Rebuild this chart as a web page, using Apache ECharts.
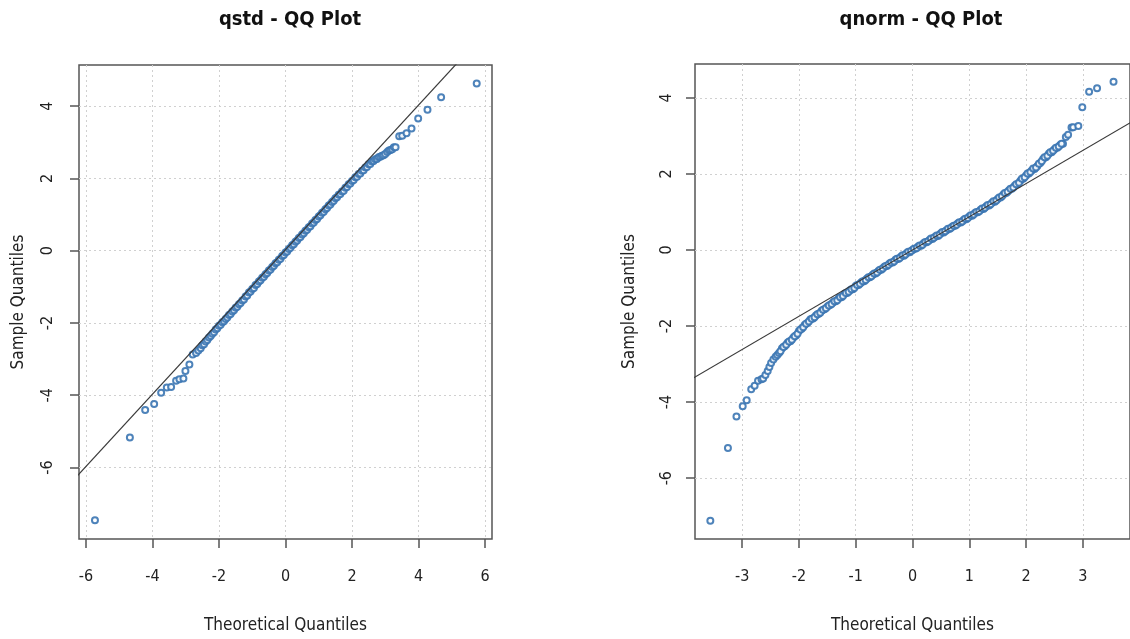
<!DOCTYPE html>
<html>
<head>
<meta charset="utf-8">
<script src="https://cdn.jsdelivr.net/npm/echarts@6/dist/echarts.min.js"></script>
<style>
html,body{margin:0;padding:0;background:#fff}
#main{width:1130px;height:639px}
</style>
</head>
<body>
<div id="main"></div>
<script>
// qstd - QQ Plot：理论分位数 / 样本分位数
var qstdTheo = [-5.73,-4.68,-4.22,-3.95,-3.74,-3.57,-3.44,-3.29,-3.19,-3.07,-3.01,-2.89,-2.79,-2.69,-2.62,
  -2.55,-2.50,-2.45,-2.40,-2.35,-2.30,-2.25,-2.20,-2.15,-2.10,-2.05,-2.00,-1.95,-1.90,-1.85,-1.80,-1.75,-1.70,-1.65,-1.60,
  -1.55,-1.50,-1.45,-1.40,-1.35,-1.30,-1.25,-1.20,-1.15,-1.10,-1.05,-1.00,-0.95,-0.90,-0.85,-0.80,-0.75,-0.70,-0.65,-0.60,
  -0.55,-0.50,-0.45,-0.40,-0.35,-0.30,-0.25,-0.20,-0.15,-0.10,-0.05,0.00,0.05,0.10,0.15,0.20,0.25,0.30,0.35,0.40,
  0.45,0.50,0.55,0.60,0.65,0.70,0.75,0.80,0.85,0.90,0.95,1.00,1.05,1.10,1.15,1.20,1.25,1.30,1.35,1.40,
  1.45,1.50,1.55,1.60,1.65,1.70,1.75,1.80,1.85,1.90,1.95,2.00,2.05,2.10,2.15,2.20,2.25,2.30,2.35,2.40,
  2.45,2.50,2.55,2.60,2.65,2.70,2.75,2.80,2.85,2.90,2.95,3.00,
  3.06,3.11,3.16,3.21,3.26,3.31,3.42,3.51,3.64,3.79,3.99,4.27,4.68,5.75];
var qstdSample = [-7.46,-5.17,-4.41,-4.24,-3.93,-3.79,-3.77,-3.60,-3.56,-3.54,-3.33,-3.15,-2.87,-2.83,-2.76,
  -2.70,-2.62,-2.59,-2.51,-2.47,-2.40,-2.36,-2.30,-2.26,-2.18,-2.15,-2.08,-2.05,-1.98,-1.95,-1.89,-1.85,-1.78,-1.75,-1.68,
  -1.65,-1.58,-1.55,-1.48,-1.45,-1.38,-1.35,-1.27,-1.24,-1.16,-1.13,-1.06,-1.03,-0.95,-0.92,-0.85,-0.82,-0.75,-0.72,-0.65,
  -0.62,-0.55,-0.52,-0.45,-0.42,-0.35,-0.32,-0.25,-0.22,-0.15,-0.12,-0.05,-0.02,0.05,0.08,0.15,0.18,0.25,0.28,0.35,
  0.38,0.45,0.48,0.55,0.58,0.65,0.68,0.75,0.78,0.85,0.88,0.95,0.98,1.05,1.08,1.15,1.18,1.25,1.28,1.35,
  1.38,1.45,1.48,1.55,1.57,1.64,1.66,1.74,1.76,1.84,1.86,1.93,1.96,2.03,2.05,2.12,2.14,2.21,2.23,2.30,
  2.32,2.39,2.40,2.47,2.48,2.53,2.54,2.59,2.60,2.63,2.64,2.68,
  2.73,2.77,2.79,2.81,2.86,2.86,3.17,3.18,3.25,3.38,3.66,3.90,4.25,4.63];

// qnorm - QQ Plot
var qnormTheo = [-3.56,-3.25,-3.10,-2.99,-2.92,-2.84,-2.78,-2.72,-2.66,-2.63,-2.59,-2.55,-2.52,-2.49,-2.45,-2.41,-2.38,
  -2.35,-2.30,-2.25,-2.20,-2.15,-2.10,-2.05,-2.00,-1.95,-1.90,-1.85,-1.80,-1.75,-1.70,-1.65,-1.60,
  -1.55,-1.50,-1.45,-1.40,-1.35,-1.30,-1.25,-1.20,-1.15,-1.10,-1.05,-1.00,-0.95,-0.90,-0.85,-0.80,-0.75,-0.70,-0.65,-0.60,
  -0.55,-0.50,-0.45,-0.40,-0.35,-0.30,-0.25,-0.20,-0.15,-0.10,-0.05,0.00,0.05,0.10,0.15,0.20,0.25,0.30,0.35,0.40,
  0.45,0.50,0.55,0.60,0.65,0.70,0.75,0.80,0.85,0.90,0.95,1.00,1.05,1.10,1.15,1.20,1.25,1.30,1.35,1.40,
  1.45,1.50,1.55,1.60,1.65,1.70,1.75,1.80,1.85,1.90,1.95,2.00,2.05,2.10,2.15,2.20,2.25,2.30,2.35,2.40,
  2.45,2.50,2.55,2.60,2.65,
  2.70,2.74,2.80,2.83,2.92,2.99,3.11,3.25,3.54,
  -2.325,-2.275,-2.225,-2.175,-2.125,-2.075,-2.025,-1.975,-1.925,-1.875,-1.825,-1.775,-1.725,-1.675,-1.625,
  -1.575,-1.525,-1.475,-1.425,-1.375,-1.325,-1.275,-1.225,-1.175,-1.125,-1.075,-1.025,-0.975,-0.925,-0.875,
  -0.825,-0.775,-0.725,-0.675,-0.625,-0.575,-0.525,-0.475,-0.425,-0.375,-0.325,-0.275,-0.225,-0.175,-0.125,
  -0.075,-0.025,0.025,0.075,0.125,0.175,0.225,0.275,0.325,0.375,0.425,0.475,0.525,0.575,0.625,
  0.675,0.725,0.775,0.825,0.875,0.925,0.975,1.025,1.075,1.125,1.175,1.225,1.275,1.325,1.375,
  1.425,1.475,1.525,1.575,1.625,1.675,1.725,1.775,1.825,1.875,1.925,1.975,2.025,2.075,2.125,
  2.175,2.225,2.275,2.325,2.375,2.425,2.475,2.525,2.575,2.625];
var qnormSample = [-7.12,-5.21,-4.38,-4.11,-3.95,-3.66,-3.57,-3.44,-3.40,-3.38,-3.29,-3.18,-3.08,-2.97,-2.88,-2.81,-2.76,
  -2.71,-2.59,-2.53,-2.44,-2.40,-2.31,-2.25,-2.13,-2.07,-1.97,-1.92,-1.83,-1.80,-1.72,-1.68,-1.60,
  -1.56,-1.49,-1.45,-1.38,-1.35,-1.27,-1.24,-1.16,-1.13,-1.06,-1.03,-0.95,-0.92,-0.85,-0.82,-0.75,-0.72,-0.65,-0.62,-0.55,
  -0.52,-0.45,-0.42,-0.35,-0.33,-0.26,-0.24,-0.17,-0.15,-0.08,-0.06,0.00,0.03,0.09,0.11,0.18,0.20,0.26,0.29,0.35,
  0.37,0.44,0.46,0.52,0.55,0.61,0.64,0.70,0.72,0.79,0.81,0.88,0.90,0.97,0.99,1.06,1.08,1.15,1.17,1.24,
  1.27,1.34,1.38,1.46,1.50,1.57,1.61,1.69,1.73,1.82,1.87,1.96,2.01,2.09,2.13,2.21,2.29,2.39,2.44,2.53,
  2.57,2.65,2.69,2.76,2.79,
  2.97,3.03,3.22,3.23,3.26,3.75,4.16,4.25,4.42,
  -2.66,-2.55,-2.49,-2.41,-2.36,-2.27,-2.20,-2.09,-2.03,-1.94,-1.88,-1.81,-1.77,-1.69,-1.65,
  -1.57,-1.53,-1.46,-1.42,-1.35,-1.32,-1.24,-1.21,-1.13,-1.10,-1.03,-1.00,-0.92,-0.89,-0.82,
  -0.79,-0.72,-0.69,-0.62,-0.59,-0.52,-0.49,-0.42,-0.39,-0.33,-0.30,-0.23,-0.21,-0.14,-0.12,
  -0.05,-0.03,0.03,0.05,0.12,0.14,0.21,0.23,0.30,0.32,0.38,0.40,0.47,0.49,0.56,
  0.58,0.64,0.66,0.73,0.75,0.82,0.84,0.91,0.93,1.00,1.02,1.09,1.11,1.18,1.20,
  1.28,1.30,1.38,1.41,1.50,1.53,1.61,1.64,1.73,1.77,1.87,1.91,2.01,2.05,2.14,
  2.17,2.27,2.33,2.44,2.48,2.57,2.61,2.69,2.72,2.79];

// 参考线 (qqline) 两端
var qstdLineX = [-6.4, 6.4];
var qstdLineY = [-6.37, 6.43];
var qnormLineX = [-4.0, 4.0];
var qnormLineY = [-3.49, 3.49];

// 刻度
var qstdXTicks = [-6, -4, -2, 0, 2, 4, 6];
var qstdYTicks = [-6, -4, -2, 0, 2, 4];
var qnormXTicks = [-3, -2, -1, 0, 1, 2, 3];
var qnormYTicks = [-6, -4, -2, 0, 2, 4];

function zip(a, b) {
  var out = [];
  for (var i = 0; i < a.length; i++) out.push([a[i], b[i]]);
  return out;
}

var FONT = '"Liberation Sans Narrow", "DejaVu Sans Condensed", "Liberation Sans", Arial, sans-serif';
var AX = '#555';

function xAxisOf(idx, min, max, ticks) {
  return {
    type: 'value', gridIndex: idx, min: min, max: max,
    name: 'Theoretical Quantiles', nameLocation: 'middle', nameGap: 78,
    nameTextStyle: {fontFamily: FONT, fontSize: 17, color: '#222'},
    axisLine: {show: false, onZero: false},
    axisTick: {show: true, inside: false, length: 9, customValues: ticks, lineStyle: {color: AX, width: 1.5}},
    axisLabel: {customValues: ticks, margin: 30, fontFamily: FONT, fontSize: 16, color: '#222'},
    splitLine: {show: true, lineStyle: {color: '#d0d0d0', type: [2, 3], width: 1}}
  };
}
function yAxisOf(idx, min, max, ticks, gap, margin) {
  return {
    type: 'value', gridIndex: idx, min: min, max: max,
    name: 'Sample Quantiles', nameLocation: 'middle', nameGap: gap, nameRotate: 90,
    nameTextStyle: {fontFamily: FONT, fontSize: 17, color: '#222'},
    axisLine: {show: false, onZero: false},
    axisTick: {show: true, inside: false, length: 9, customValues: ticks, lineStyle: {color: AX, width: 1.5}},
    axisLabel: {customValues: ticks, rotate: 90, margin: margin, fontFamily: FONT, fontSize: 16, color: '#222'},
    splitLine: {show: true, lineStyle: {color: '#d0d0d0', type: [2, 3], width: 1}}
  };
}

var pointStyle = {color: '#3b76b2', borderWidth: 1.3, opacity: 0.9};

var myChart = echarts.init(document.getElementById('main'));
myChart.setOption({
  animation: false,
  backgroundColor: '#fff',
  title: [
    {text: 'qstd - QQ Plot', left: 285, top: 5, textAlign: 'center',
     textStyle: {fontFamily: FONT, fontSize: 20, fontWeight: 'bold', color: '#111'}},
    {text: 'qnorm - QQ Plot', left: 916, top: 5, textAlign: 'center',
     textStyle: {fontFamily: FONT, fontSize: 20, fontWeight: 'bold', color: '#111'}}
  ],
  grid: [
    {left: 79, top: 65, width: 413, height: 475, show: true, borderColor: AX, borderWidth: 1.5, backgroundColor: 'transparent'},
    {left: 695, top: 64, width: 442, height: 475, show: true, borderColor: AX, borderWidth: 1.5, backgroundColor: 'transparent'}
  ],
  xAxis: [
    xAxisOf(0, -6.21, 6.21, qstdXTicks),
    xAxisOf(1, -3.83, 3.83, qnormXTicks)
  ],
  yAxis: [
    yAxisOf(0, -7.98, 5.14, qstdYTicks, 52, 23),
    yAxisOf(1, -7.6, 4.89, qnormYTicks, 57, 20)
  ],
  series: [
    {type: 'scatter', xAxisIndex: 0, yAxisIndex: 0, symbol: 'emptyCircle', symbolSize: 6,
     itemStyle: pointStyle, data: zip(qstdTheo, qstdSample), z: 2},
    {type: 'line', xAxisIndex: 0, yAxisIndex: 0, symbol: 'none', clip: true,
     lineStyle: {color: '#3a3a3a', width: 1.2}, data: zip(qstdLineX, qstdLineY), z: 3},
    {type: 'scatter', xAxisIndex: 1, yAxisIndex: 1, symbol: 'emptyCircle', symbolSize: 6,
     itemStyle: pointStyle, data: zip(qnormTheo, qnormSample), z: 2},
    {type: 'line', xAxisIndex: 1, yAxisIndex: 1, symbol: 'none', clip: true,
     lineStyle: {color: '#3a3a3a', width: 1.2}, data: zip(qnormLineX, qnormLineY), z: 3}
  ]
});
</script>
</body>
</html>
